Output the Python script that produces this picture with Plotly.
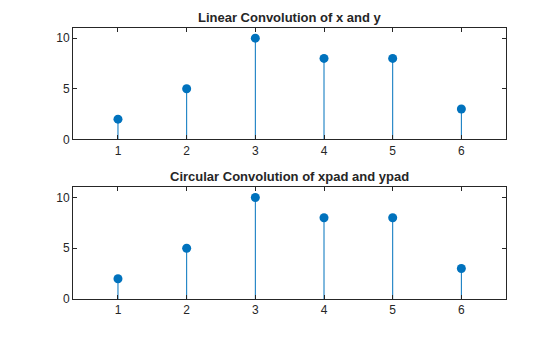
import plotly.graph_objects as go

# Sample indices and convolution results
n = [1, 2, 3, 4, 5, 6]
linear_conv = [2, 5, 10, 8, 8, 3]
circular_conv = [2, 5, 10, 8, 8, 3]
x_ticks = [1, 2, 3, 4, 5, 6]
y_ticks = [0, 5, 10]
titles = ["Linear Convolution of x and y", "Circular Convolution of xpad and ypad"]

STEM_COLOR = "#0072BD"
AXIS_COLOR = "#262626"
FONT = "Liberation Sans, Arial, sans-serif"

fig = go.Figure()


def add_stem(values, xa, ya):
    xs, ys = [], []
    for xi, yi in zip(n, values):
        xs += [xi, xi, None]
        ys += [0, yi, None]
    fig.add_trace(go.Scatter(x=xs, y=ys, mode="lines", xaxis=xa, yaxis=ya,
                             line=dict(color=STEM_COLOR, width=1),
                             hoverinfo="skip", showlegend=False))
    fig.add_trace(go.Scatter(x=n, y=values, mode="markers", xaxis=xa, yaxis=ya,
                             marker=dict(color=STEM_COLOR, size=9, line=dict(width=0)),
                             showlegend=False))


add_stem(linear_conv, "x", "y")
add_stem(circular_conv, "x2", "y2")

axis_common = dict(showline=True, mirror="ticks", linecolor=AXIS_COLOR, linewidth=1,
                   ticks="inside", ticklen=4, tickcolor=AXIS_COLOR, tickwidth=1,
                   showgrid=False, zeroline=False,
                   tickfont=dict(family=FONT, size=12, color=AXIS_COLOR))

fig.update_layout(
    width=560, height=337,
    margin=dict(l=73, r=54, t=28, b=38),
    plot_bgcolor="white", paper_bgcolor="white",
    xaxis=dict(domain=[0, 1], range=[0.345, 6.65], tickvals=x_ticks, anchor="y", **axis_common),
    yaxis=dict(domain=[0.589, 1], range=[0, 11], tickvals=y_ticks, anchor="x", **axis_common),
    xaxis2=dict(domain=[0, 1], range=[0.345, 6.65], tickvals=x_ticks, anchor="y2", **axis_common),
    yaxis2=dict(domain=[0, 0.412], range=[0, 11], tickvals=y_ticks, anchor="x2", **axis_common),
)

for title, yd in zip(titles, [1.0, 0.412]):
    fig.add_annotation(text="<b>%s</b>" % title, xref="paper", yref="paper",
                       x=0.5, y=yd, yanchor="bottom", xanchor="center", yshift=1,
                       showarrow=False,
                       font=dict(family=FONT, size=13, color=AXIS_COLOR))

fig.write_html("out.html")
